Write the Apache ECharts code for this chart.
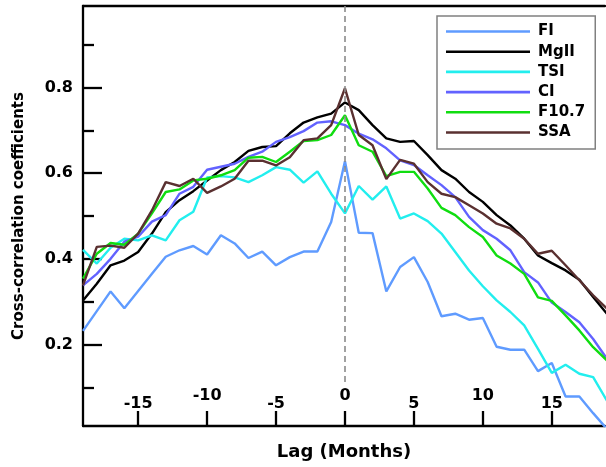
<!DOCTYPE html>
<html>
<head>
<meta charset="utf-8">
<script src="https://cdn.jsdelivr.net/npm/echarts@6/dist/echarts.min.js"></script>
<style>html,body{margin:0;padding:0;background:#fff}#c{width:606px;height:467px}</style>
</head>
<body>
<div id="c"></div>
<script>
const lags = [-19,-18,-17,-16,-15,-14,-13,-12,-11,-10,-9,-8,-7,-6,-5,-4,-3,-2,-1,0,1,2,3,4,5,6,7,8,9,10,11,12,13,14,15,16,17,18,19];
const FI   = [0.232,0.278,0.324,0.285,0.325,0.365,0.405,0.420,0.430,0.410,0.455,0.436,0.402,0.417,0.385,0.404,0.417,0.417,0.486,0.628,0.461,0.460,0.324,0.381,0.404,0.346,0.266,0.272,0.258,0.262,0.195,0.188,0.188,0.138,0.157,0.079,0.079,0.040,0.003];
const MgII = [0.303,0.342,0.385,0.396,0.416,0.459,0.509,0.537,0.558,0.583,0.607,0.626,0.652,0.661,0.663,0.693,0.718,0.730,0.739,0.765,0.747,0.712,0.681,0.673,0.675,0.642,0.607,0.587,0.556,0.533,0.502,0.478,0.447,0.408,0.390,0.373,0.351,0.311,0.272];
const TSI  = [0.421,0.389,0.426,0.447,0.443,0.455,0.443,0.490,0.510,0.590,0.593,0.590,0.579,0.595,0.614,0.608,0.578,0.604,0.552,0.506,0.570,0.538,0.569,0.494,0.506,0.488,0.459,0.416,0.373,0.336,0.303,0.276,0.245,0.190,0.134,0.153,0.132,0.124,0.069];
const CI   = [0.338,0.365,0.400,0.440,0.452,0.487,0.502,0.552,0.568,0.608,0.615,0.622,0.638,0.650,0.673,0.684,0.698,0.718,0.721,0.712,0.692,0.679,0.658,0.630,0.619,0.595,0.572,0.544,0.498,0.467,0.447,0.420,0.369,0.345,0.298,0.276,0.252,0.213,0.167];
const F107 = [0.354,0.412,0.437,0.433,0.459,0.506,0.556,0.562,0.583,0.587,0.595,0.607,0.636,0.638,0.626,0.650,0.675,0.677,0.689,0.735,0.665,0.650,0.593,0.603,0.603,0.564,0.519,0.502,0.474,0.451,0.408,0.389,0.365,0.310,0.302,0.268,0.233,0.194,0.163];
const SSA  = [0.338,0.428,0.431,0.426,0.459,0.513,0.579,0.570,0.587,0.554,0.569,0.587,0.629,0.629,0.618,0.637,0.677,0.681,0.712,0.798,0.689,0.665,0.586,0.631,0.622,0.579,0.552,0.544,0.525,0.506,0.482,0.471,0.447,0.412,0.419,0.385,0.350,0.315,0.284];
const xTicks = [-15,-10,-5,0,5,10,15];
const xLabelsLow = [-15,-5,5,15];
const xLabelsHigh = [-10,0,10];
const yMajor = [0.2,0.4,0.6,0.8];
const yMinor = [0.1,0.3,0.5,0.7,0.9];

const FONT = 'DejaVu Sans';
const names = ['FI','MgII','TSI','CI','F10.7','SSA'];
const values = [FI, MgII, TSI, CI, F107, SSA];
const colors = ['#5f9bff','#000000','#22eeee','#6262ff','#10dd10','#5a3030'];

const chart = echarts.init(document.getElementById('c'), null, {renderer:'canvas'});
const series = names.map((n,i)=>({
  name:n, type:'line', xAxisIndex:0, yAxisIndex:0,
  data: lags.map((l,j)=>[l, values[i][j]]),
  symbol:'none', showSymbol:false, clip:true,
  lineStyle:{color:colors[i], width:2.4},
  itemStyle:{color:colors[i]},
  z: 3
}));
series[0].markLine = {
  silent:true, symbol:'none', label:{show:false},
  lineStyle:{color:'#8a8a8a', type:[6,4], width:1.6},
  data:[[{coord:[0,0.99]},{coord:[0,0.11]}]]
};

const labelStyle = {fontFamily:FONT, fontWeight:'bold', fontSize:16, color:'#000'};
chart.setOption({
  animation:false,
  backgroundColor:'#fff',
  grid:{left:83, right:1, top:6, bottom:41, containLabel:false},
  legend:{
    orient:'vertical', left:437, top:16,
    padding:[8,10,9,9], itemWidth:84, itemHeight:2.6, itemGap:5.2, icon:'rect',
    borderColor:'#808080', borderWidth:1.5, backgroundColor:'#fff',
    textStyle:{fontFamily:FONT, fontWeight:'bold', fontSize:15, color:'#000', padding:[0,0,0,3]},
    data:names
  },
  xAxis:[
    {type:'value', min:-19, max:18.86, position:'bottom',
     axisLine:{show:true, onZero:false, lineStyle:{color:'#000', width:2.3}},
     axisTick:{show:true, inside:true, length:15, customValues:xTicks, lineStyle:{color:'#000', width:2.3}},
     axisLabel:Object.assign({show:true, inside:true, margin:14, customValues:xLabelsLow}, labelStyle),
     splitLine:{show:false},
     name:'Lag (Months)', nameLocation:'middle', nameGap:17,
     nameTextStyle:{fontFamily:FONT, fontWeight:'bold', fontSize:18, color:'#000'}},
    {type:'value', min:-19, max:18.86, position:'bottom',
     axisLine:{show:false, onZero:false}, axisTick:{show:false},
     axisLabel:Object.assign({show:true, inside:true, margin:22, customValues:xLabelsHigh}, labelStyle),
     splitLine:{show:false}},
    {type:'value', min:-19, max:18.86, position:'top',
     axisLine:{show:true, onZero:false, lineStyle:{color:'#000', width:2.3}},
     axisTick:{show:false}, axisLabel:{show:false}, splitLine:{show:false}}
  ],
  yAxis:[
    {type:'value', min:0.01, max:0.99, position:'left',
     axisLine:{show:true, onZero:false, lineStyle:{color:'#000', width:2.3}},
     axisTick:{show:true, inside:true, length:19, customValues:yMajor, lineStyle:{color:'#000', width:2.3}},
     axisLabel:Object.assign({show:true, margin:10, customValues:yMajor, formatter:v=>v.toFixed(1)}, labelStyle),
     splitLine:{show:false},
     name:'Cross-correlation coefficients', nameLocation:'middle', nameGap:56,
     nameTextStyle:{fontFamily:FONT, fontWeight:'bold', fontSize:15, color:'#000'}},
    {type:'value', min:0.01, max:0.99, position:'left',
     axisLine:{show:false, onZero:false},
     axisTick:{show:true, inside:true, length:11, customValues:yMinor, lineStyle:{color:'#000', width:2.3}},
     axisLabel:{show:false}, splitLine:{show:false}}
  ],
  series:series
});
</script>
</body>
</html>
